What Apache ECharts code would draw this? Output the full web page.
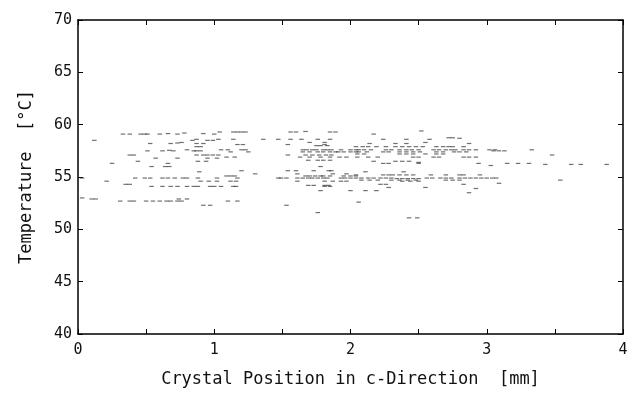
<!DOCTYPE html>
<html>
<head>
<meta charset="utf-8">
<script src="https://cdn.jsdelivr.net/npm/echarts@6.0.0/dist/echarts.min.js"></script>
<style>html,body{margin:0;padding:0;background:#fff}#c{width:636px;height:393px}</style>
</head>
<body>
<div id="c"></div>
<script>
// axis ticks
const xTicks = [0, 1, 2, 3, 4];
const yTicks = [40, 45, 50, 55, 60, 65, 70];
const xTitle = 'Crystal Position in c-Direction  [mm]';
const yTitle = 'Temperature  [\u00B0C]';

// measured points [x (mm), T (°C)], grouped by band
const bandUpper = [
 [0.33,59.1],[0.38,59.1],[0.46,59.1],[0.49,59.1],[0.51,59.1],[0.6,59.1],[0.66,59.15],[0.73,59.1],[0.78,59.2],[0.92,59.15],[1.0,59.1],
 [1.04,59.3],[1.14,59.3],[1.17,59.3],[1.2,59.3],[1.23,59.3],[1.56,59.3],[1.6,59.3],[1.67,59.35],[1.85,59.3],[1.89,59.3],
 [2.17,59.1],[2.52,59.4],
 [0.12,58.5],[0.84,58.5],[0.87,58.6],[0.95,58.5],[0.99,58.5],[1.03,58.6],[1.14,58.6],[1.36,58.6],[1.47,58.6],[1.56,58.6],[1.64,58.6],[1.76,58.6],[1.85,58.6],
 [2.24,58.6],[2.41,58.6],[2.58,58.6],[2.72,58.75],[2.75,58.75],[2.8,58.7],
 [0.53,58.2],[0.68,58.2],[0.73,58.25],[0.76,58.3],[0.87,58.2],[0.92,58.2],[1.7,58.3],[1.81,58.3],[2.14,58.2],[2.33,58.2],[2.41,58.2],[2.55,58.3],[2.87,58.2],
 [1.17,58.1],[1.21,58.1],[1.54,58.1],[1.75,58.0],[1.78,58.0],[1.81,58.1],[1.83,58.0]
];
const bandMiddle = [
 [0.87,57.9],[0.9,57.9],
 [0.51,57.5],[0.62,57.5],[0.67,57.55],[0.7,57.5],[0.8,57.6],[0.85,57.5],[0.87,57.5],[0.9,57.5],
 [1.05,57.6],[1.1,57.6],[1.2,57.6],[1.23,57.6],[1.65,57.6],[1.68,57.6],[1.72,57.6],[1.75,57.6],[1.8,57.6],[1.83,57.6],[1.86,57.6],[1.93,57.6],[2.0,57.6],[2.04,57.6],
 [1.12,57.4],[1.25,57.4],[1.65,57.4],[1.7,57.4],[1.76,57.4],[1.8,57.4],[1.85,57.4],[1.89,57.4],[1.91,57.4],[1.95,57.4],[2.0,57.4],[2.04,57.4],
 [2.04,57.9],[2.09,57.9],[2.13,57.9],[2.19,57.9],[2.26,57.9],[2.33,57.9],[2.38,57.9],[2.43,57.9],[2.48,57.9],[2.53,57.9],[2.63,57.9],[2.68,57.9],[2.72,57.9],[2.75,57.9],[2.83,57.9],
 [2.06,57.6],[2.1,57.6],[2.15,57.6],[2.26,57.6],[2.3,57.6],[2.36,57.6],[2.41,57.6],[2.45,57.6],[2.5,57.6],[2.61,57.6],[2.65,57.6],[2.7,57.6],[2.74,57.6],[2.77,57.6],[2.83,57.6],[2.87,57.6],[2.92,57.6],[3.02,57.6],[3.06,57.6],
 [2.06,57.4],[2.12,57.4],[2.24,57.4],[2.28,57.4],[2.36,57.4],[2.41,57.4],[2.46,57.4],[2.51,57.4],[2.63,57.4],[2.68,57.4],[2.76,57.4],[2.8,57.4],[2.85,57.4],
 [0.38,57.1],[0.41,57.1],[0.87,57.1],[0.92,57.1],[0.95,57.1],[0.99,57.1],[1.03,57.1],[1.54,57.1],[1.67,57.1],[1.72,57.1],[1.77,57.1],[1.82,57.1],[1.86,57.1],
 [2.05,57.2],[2.1,57.2],[2.36,57.2],[2.41,57.2],[2.46,57.2],[2.55,57.2],[2.63,57.2],[2.68,57.2],
 [3.05,57.5],[3.09,57.5],[3.13,57.5],[3.33,57.6],[3.48,57.1],
 [0.57,56.8],[0.73,56.8],[0.95,56.8],[1.02,56.8],[1.09,56.9],[1.15,56.9],[1.63,56.9],[1.7,56.9],[1.78,56.9],[1.85,56.9],[1.92,56.9],[1.97,56.9],[2.05,56.9],[2.13,56.9],[2.2,56.9],[2.46,56.9],[2.5,56.9],[2.61,56.9],[2.65,56.9],[2.83,56.9],[2.87,56.9],[2.92,56.9],
 [0.44,56.5],[0.88,56.5],[0.94,56.5],[1.69,56.6],[1.76,56.6],[1.8,56.6],[1.85,56.6],[2.17,56.5],[2.33,56.5],[2.38,56.5],[2.43,56.5],[2.5,56.4],
 [0.25,56.3],[0.66,56.3],[2.24,56.3],[2.28,56.3],[2.5,56.3],[2.94,56.3],
 [0.54,56.0],[0.64,56.0],[0.67,56.0],[1.78,56.0],[3.03,56.1]
];
const bandTail = [
 [3.15,56.3],[3.23,56.3],[3.31,56.3],[3.43,56.2],[3.62,56.2],[3.69,56.2],[3.88,56.2],[3.54,54.7],[3.09,54.4]
];
const bandLower = [
 [0.89,55.5],[1.2,55.6],[1.54,55.6],[1.6,55.6],[1.73,55.6],[1.84,55.6],[1.86,55.6],[2.11,55.5],[2.39,55.5],
 [1.3,55.3],[1.61,55.3],[1.87,55.3],[1.97,55.3],
 [1.09,55.1],[1.12,55.1],[1.15,55.1],[1.67,55.1],[1.7,55.1],[1.74,55.1],[1.78,55.1],[1.8,55.1],[1.85,55.1],[1.95,55.1],[2.0,55.1],[2.04,55.1],
 [2.04,55.2],[2.24,55.2],[2.28,55.2],[2.31,55.2],[2.36,55.2],[2.41,55.2],[2.46,55.2],[2.59,55.2],[2.7,55.2],[2.8,55.2],[2.83,55.2],[2.95,55.2],
 [0.03,54.9],[0.42,54.9],[0.49,54.9],[0.53,54.9],[0.62,54.9],[0.66,54.9],[0.71,54.9],[0.77,54.9],[0.8,54.9],[0.88,54.9],[1.02,54.9],
 [1.17,54.9],[1.47,54.9],[1.49,54.9],[1.53,54.9],[1.61,54.9],[1.65,54.9],[1.69,54.9],[1.72,54.9],[1.76,54.9],[1.8,54.9],[1.83,54.9],[1.93,54.9],[1.96,54.9],[2.0,54.9],
 [2.04,54.9],[2.08,54.9],[2.13,54.9],[2.17,54.9],[2.22,54.9],[2.26,54.9],[2.3,54.9],[2.34,54.85],[2.38,54.85],[2.42,54.85],[2.46,54.85],[2.5,54.85],[2.56,54.9],[2.6,54.9],[2.66,54.9],[2.7,54.9],[2.74,54.9],[2.8,54.9],[2.84,54.9],[2.88,54.9],[2.92,54.9],[2.96,54.9],[3.0,54.9],[3.04,54.9],[3.07,54.9],
 [0.21,54.6],[0.9,54.6],[0.96,54.6],[1.02,54.6],[1.12,54.6],[1.16,54.6],[1.61,54.6],[1.81,54.6],[1.87,54.6],[1.93,54.6],[1.97,54.6],
 [2.08,54.7],[2.14,54.7],[2.2,54.7],[2.3,54.7],[2.36,54.7],[2.42,54.7],[2.48,54.7],[2.7,54.7],[2.75,54.7],[2.8,54.7],
 [2.38,54.6],[2.44,54.6],[2.5,54.6],
 [0.35,54.3],[0.38,54.3],[1.69,54.2],[1.73,54.2],[1.81,54.2],[1.84,54.2],[2.22,54.3],[2.26,54.3],[2.83,54.3],
 [0.54,54.1],[0.62,54.1],[0.68,54.1],[0.73,54.1],[0.8,54.1],[0.85,54.1],[0.88,54.1],[0.97,54.1],[1.0,54.1],[1.05,54.1],[1.14,54.1],[1.16,54.1],[1.81,54.1],[1.85,54.1],[2.28,54.0],[2.55,54.0],[2.92,53.9],
 [1.78,53.7],[2.0,53.7],[2.11,53.7],[2.19,53.7],[2.87,53.5]
];
const bandLowest = [
 [0.03,53.0],[0.1,52.9],[0.13,52.9],[0.31,52.7],[0.38,52.7],[0.41,52.7],[0.5,52.7],[0.55,52.7],[0.6,52.7],[0.65,52.7],[0.68,52.7],[0.73,52.7],[0.76,52.7],[0.74,52.9],[0.8,52.9],[1.1,52.7],[1.17,52.7],[2.06,52.6],
 [0.92,52.3],[0.97,52.3],[1.53,52.3],[1.76,51.6],[2.43,51.1],[2.49,51.1]
];

const allPoints = [].concat(bandUpper, bandMiddle, bandTail, bandLower, bandLowest);

const chart = echarts.init(document.getElementById('c'), null, {renderer: 'canvas'});
const labelFont = {fontFamily: 'DejaVu Sans Mono', fontSize: 15, color: '#111'};
const nameFont = {fontFamily: 'DejaVu Sans Mono', fontSize: 17, color: '#111'};
const lineStyle = {color: '#000', width: 1.5};
const tickInside = {show: true, inside: true, length: 5, lineStyle: {color: '#000', width: 1}};
const minorX = {show: true, splitNumber: 2, length: 5, lineStyle: {color: '#000', width: 1}};

chart.setOption({
  animation: false,
  backgroundColor: '#fff',
  grid: {left: 78, right: 13, top: 20, bottom: 56},
  xAxis: [{
    type: 'value', min: xTicks[0], max: xTicks[xTicks.length - 1], interval: 1,
    name: xTitle, nameLocation: 'middle', nameGap: 37, nameTextStyle: nameFont,
    axisLine: {show: true, onZero: false, lineStyle: lineStyle},
    axisTick: tickInside, minorTick: minorX,
    axisLabel: Object.assign({margin: 9}, labelFont),
    splitLine: {show: false}
  }, {
    type: 'value', position: 'top', min: xTicks[0], max: xTicks[xTicks.length - 1], interval: 1,
    axisLine: {show: true, onZero: false, lineStyle: lineStyle},
    axisTick: tickInside, minorTick: minorX,
    axisLabel: {show: false}, splitLine: {show: false}
  }],
  yAxis: [{
    type: 'value', min: yTicks[0], max: yTicks[yTicks.length - 1], interval: 5,
    name: yTitle, nameLocation: 'middle', nameGap: 43, nameTextStyle: nameFont,
    axisLine: {show: true, onZero: false, lineStyle: lineStyle},
    axisTick: tickInside,
    axisLabel: Object.assign({margin: 6}, labelFont),
    splitLine: {show: false}
  }, {
    type: 'value', position: 'right', min: yTicks[0], max: yTicks[yTicks.length - 1], interval: 5,
    axisLine: {show: true, onZero: false, lineStyle: lineStyle},
    axisTick: tickInside,
    axisLabel: {show: false}, splitLine: {show: false}
  }],
  series: [{
    type: 'scatter',
    data: allPoints,
    symbol: 'rect',
    symbolSize: [4.5, 1.2],
    itemStyle: {color: '#333', opacity: 0.7},
    silent: true
  }]
});
</script>
</body>
</html>
